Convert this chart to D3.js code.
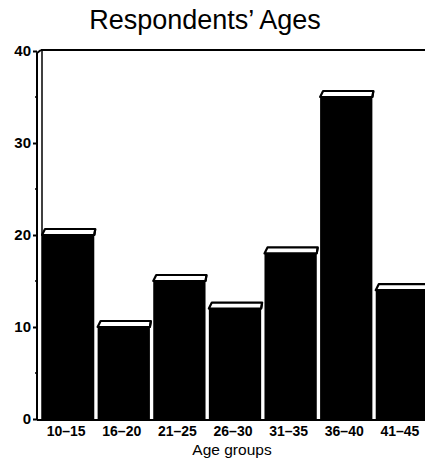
<!DOCTYPE html>
<html>
<head>
<meta charset="utf-8">
<script src="https://cdn.jsdelivr.net/npm/d3@7"></script>
<style>
  html, body { margin: 0; padding: 0; background: #fff; }
  svg { display: block; font-family: "Liberation Sans", Arial, sans-serif; }
</style>
</head>
<body>
<svg id="chart" width="425" height="462"></svg>
<script>
// Age groups of respondents and the number in each group
const ageGroups = ["10–15", "16–20", "21–25", "26–30", "31–35", "36–40", "41–45"];
const counts = [20, 10, 15, 12, 18, 35, 14];
const yTicks = [0, 10, 20, 30, 40];
const yMinorTicks = [5, 15, 25, 35];

const svg = d3.select("#chart");
const plotLeft = 42, plotRight = 428, plotTop = 51, plotBottom = 419;

const x = d3.scaleBand().domain(ageGroups).range([plotLeft, plotRight]).paddingInner(0.06).paddingOuter(0.0);
const y = d3.scaleLinear().domain([0, 40]).range([plotBottom, plotTop]);

// Title
svg.append("text")
  .attr("x", 205).attr("y", 29)
  .attr("text-anchor", "middle")
  .attr("font-size", 27)
  .text("Respondents’ Ages");

// Frame: top edge and doubled left wall
svg.append("line").attr("x1", plotLeft - 1).attr("x2", 425).attr("y1", y(40) - 1).attr("y2", y(40) - 1)
  .attr("stroke", "#000").attr("stroke-width", 2);
svg.append("path")
  .attr("d", `M${plotLeft - 5},${y(0) + 1} L${plotLeft - 5},${y(40) + 2} L${plotLeft - 1},${y(40) - 1}`)
  .attr("fill", "none").attr("stroke", "#000").attr("stroke-width", 2);
svg.append("line").attr("x1", plotLeft).attr("x2", plotLeft).attr("y1", y(40) - 1).attr("y2", y(0) + 1)
  .attr("stroke", "#000").attr("stroke-width", 1.5);

// Y axis ticks and labels
const yAxis = d3.axisLeft(y).tickValues(yTicks).tickSize(4).tickPadding(2).tickFormat(d3.format("d"));
const gy = svg.append("g").attr("transform", `translate(${plotLeft - 5},0)`).call(yAxis);
gy.select(".domain").remove();
gy.selectAll(".tick line").attr("stroke", "#000").attr("stroke-width", 2);
gy.selectAll(".tick text").attr("font-size", 15).attr("font-weight", "bold")
  .attr("font-family", "Liberation Sans, Arial, sans-serif").attr("fill", "#000");

svg.append("g").selectAll("line").data(yMinorTicks).join("line")
  .attr("x1", plotLeft - 7).attr("x2", plotLeft - 4)
  .attr("y1", d => y(d)).attr("y2", d => y(d))
  .attr("stroke", "#000").attr("stroke-width", 1.5);

// Bars with a raised top face
const capDx = 3, capDy = 6;
const bars = svg.append("g");
ageGroups.forEach((g, i) => {
  const x0 = x(g), w = x.bandwidth(), yt = y(counts[i]);
  bars.append("rect")
    .attr("x", x0).attr("y", yt).attr("width", w).attr("height", y(0) - yt)
    .attr("fill", "#000");
  bars.append("path")
    .attr("d", `M${x0},${yt} L${x0 + capDx},${yt - capDy} L${x0 + w + 1},${yt - capDy} L${x0 + w},${yt} Z`)
    .attr("fill", "#fff").attr("stroke", "#000").attr("stroke-width", 2.2).attr("stroke-linejoin", "round");
  bars.append("line")
    .attr("x1", x0 + w).attr("x2", x0 + w + 1).attr("y1", yt).attr("y2", yt - capDy)
    .attr("stroke", "#000").attr("stroke-width", 2);
});

// Baseline
svg.append("line").attr("x1", plotLeft - 5).attr("x2", 425).attr("y1", y(0) + 1).attr("y2", y(0) + 1)
  .attr("stroke", "#000").attr("stroke-width", 2);

// X axis labels
const xAxis = d3.axisBottom(x).tickSize(0).tickPadding(7);
const gx = svg.append("g").attr("transform", `translate(-2,${y(0)})`).call(xAxis);
gx.select(".domain").remove();
gx.selectAll(".tick text").attr("font-size", 14).attr("font-weight", "bold")
  .attr("font-family", "Liberation Sans, Arial, sans-serif").attr("fill", "#000");

// X axis title
svg.append("text")
  .attr("x", 232).attr("y", 455)
  .attr("text-anchor", "middle")
  .attr("font-size", 15.5)
  .text("Age groups");
</script>
</body>
</html>
